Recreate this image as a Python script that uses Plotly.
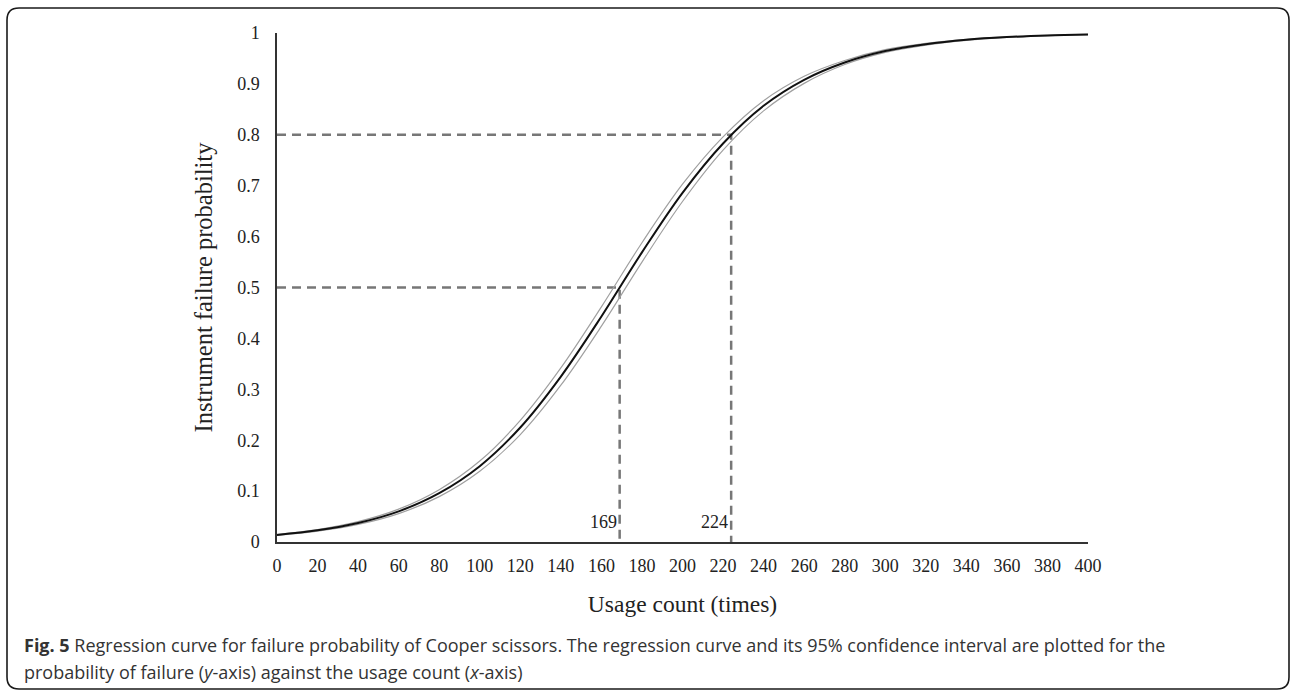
import plotly.graph_objects as go

# ---------------- data ----------------
usage = [0, 20, 40, 60, 80, 100, 120, 140, 160, 180, 200,
         220, 240, 260, 280, 300, 320, 340, 360, 380, 400]
fit = [0.0139, 0.0229, 0.0373, 0.0602, 0.0960, 0.149, 0.225, 0.325, 0.443, 0.569, 0.686,
       0.783, 0.857, 0.908, 0.942, 0.9645, 0.978, 0.9867, 0.9919, 0.9951, 0.9970]
ci_upper = [0.0149, 0.0246, 0.0401, 0.0646, 0.1028, 0.159, 0.239, 0.342, 0.462, 0.588, 0.703,
            0.796, 0.867, 0.915, 0.946, 0.9672, 0.9797, 0.9877, 0.9925, 0.9955, 0.9973]
ci_lower = [0.0130, 0.0212, 0.0345, 0.0558, 0.0892, 0.139, 0.211, 0.308, 0.424, 0.550, 0.669,
            0.770, 0.847, 0.901, 0.938, 0.9618, 0.9763, 0.9857, 0.9913, 0.9947, 0.9967]

ref_counts = [169, 224]
ref_probs = [0.5, 0.8]

x_ticks = list(range(0, 401, 20))
y_ticks = [0, 0.1, 0.2, 0.3, 0.4, 0.5, 0.6, 0.7, 0.8, 0.9, 1]
y_tick_text = ["0", "0.1", "0.2", "0.3", "0.4", "0.5", "0.6", "0.7", "0.8", "0.9", "1"]

x_title = "Usage count (times)"
y_title = "Instrument failure probability"
caption_1 = ("<b>Fig. 5</b> Regression curve for failure probability of Cooper scissors. "
             "The regression curve and its 95% confidence interval are plotted for the")
caption_2 = "probability of failure (<i>y</i>-axis) against the usage count (<i>x</i>-axis)"

# ---------------- layout geometry (pixels) ----------------
W, H = 1290, 691
L, R, T, B = 277, 1088, 33, 542   # plot-area edges in pixels
pw, ph = R - L, B - T


def px(xp):
    return (xp - L) / pw


def py(yp):
    return (B - yp) / ph


SERIF = "Liberation Serif, Times New Roman, serif"
SANS = "Open Sans, Noto Sans, sans-serif"

fig = go.Figure()

# dashed reference lines
for c, p in zip(ref_counts, ref_probs):
    fig.add_trace(go.Scatter(
        x=[0, c, c], y=[p, p, 0], mode="lines",
        line=dict(color="#777777", width=2.5, dash="9px,6px"),
        hoverinfo="skip", showlegend=False))

# confidence interval bounds
for band in (ci_upper, ci_lower):
    fig.add_trace(go.Scatter(
        x=usage, y=band, mode="lines", line_shape="spline",
        line=dict(color="#a0a0a0", width=1.2),
        hoverinfo="skip", showlegend=False))

# regression curve
fig.add_trace(go.Scatter(
    x=usage, y=fit, mode="lines", line_shape="spline",
    line=dict(color="#111111", width=2),
    showlegend=False))

# labels for reference counts
for c in ref_counts:
    fig.add_annotation(x=c, y=0, xref="x", yref="y", text=str(c),
                       showarrow=False, xanchor="right", yanchor="bottom",
                       xshift=-1, yshift=8,
                       font=dict(family=SERIF, size=18, color="#222222"))

# frame around the figure (rounded rectangle)
fx0, fx1, fy0, fy1, r = 7, 1289, 8, 689, 12
rx, ry = r / pw, r / ph
X0, X1, Y0, Y1 = px(fx0), px(fx1), py(fy1), py(fy0)
path = (f"M {X0 + rx},{Y1} L {X1 - rx},{Y1} Q {X1},{Y1} {X1},{Y1 - ry} "
        f"L {X1},{Y0 + ry} Q {X1},{Y0} {X1 - rx},{Y0} "
        f"L {X0 + rx},{Y0} Q {X0},{Y0} {X0},{Y0 + ry} "
        f"L {X0},{Y1 - ry} Q {X0},{Y1} {X0 + rx},{Y1} Z")
fig.add_shape(type="path", path=path, xref="paper", yref="paper",
              line=dict(color="#1a1a1a", width=1.6), layer="above")

# caption
fig.add_annotation(x=px(22), y=py(645), xref="paper", yref="paper", text=caption_1,
                   showarrow=False, xanchor="left", yanchor="middle",
                   font=dict(family=SANS, size=18, color="#333333"))
fig.add_annotation(x=px(22), y=py(672), xref="paper", yref="paper", text=caption_2,
                   showarrow=False, xanchor="left", yanchor="middle",
                   font=dict(family=SANS, size=18, color="#333333"))

fig.update_layout(
    width=W, height=H,
    margin=dict(l=L, r=W - R, t=T, b=H - B, autoexpand=False),
    paper_bgcolor="white", plot_bgcolor="white",
    font=dict(family=SERIF, size=18, color="#222222"),
    showlegend=False,
    xaxis=dict(range=[0, 400], tickvals=x_ticks, ticks="", showgrid=False,
               zeroline=False, showline=True, linecolor="#333333", linewidth=1.5,
               ticklabelstandoff=7, tickfont=dict(family=SERIF, size=18, color="#222222"),
               title=dict(text=x_title, standoff=20,
                          font=dict(family=SERIF, size=23.5, color="#222222")),
               automargin=False, fixedrange=True),
    yaxis=dict(range=[0, 1], tickvals=y_ticks, ticktext=y_tick_text, ticks="",
               showgrid=False, zeroline=False, showline=True, linecolor="#333333",
               linewidth=1.5, ticklabelstandoff=12,
               tickfont=dict(family=SERIF, size=18, color="#222222"),
               title=dict(text=y_title, standoff=18,
                          font=dict(family=SERIF, size=24.5, color="#222222")),
               automargin=False, fixedrange=True),
)

fig.write_html("out.html", config={"displayModeBar": False})
